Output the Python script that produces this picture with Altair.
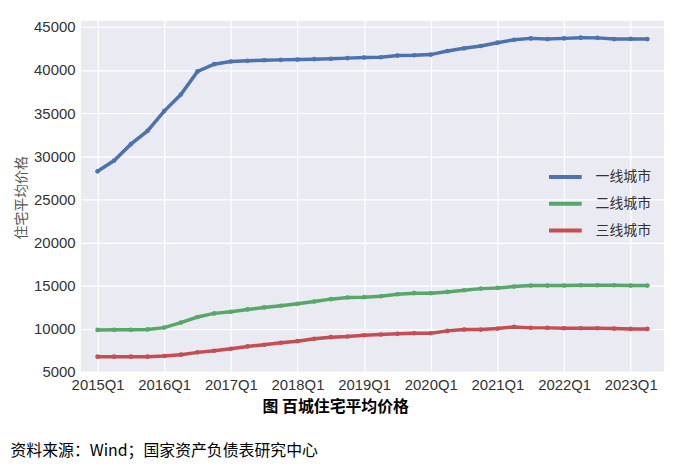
import altair as alt
import pandas as pd

quarters = [f"{y}Q{q}" for y in range(2015, 2024) for q in (1, 2, 3, 4)][:34]
tick_labels = ["2015Q1", "2016Q1", "2017Q1", "2018Q1", "2019Q1", "2020Q1", "2021Q1", "2022Q1", "2023Q1"]
series_names = ["一线城市", "二线城市", "三线城市"]
colors = ["#4C72B0", "#55A868", "#C44E52"]

tier1 = [28250, 29500, 31400, 32930, 35230, 37150, 39830, 40670, 40980, 41060,
         41130, 41170, 41200, 41250, 41300, 41370, 41440, 41470, 41670, 41700,
         41780, 42200, 42510, 42780, 43160, 43500, 43660, 43580, 43660, 43740,
         43720, 43580, 43600, 43580]
tier2 = [9860, 9870, 9880, 9920, 10130, 10710, 11360, 11780, 11970, 12240,
         12470, 12660, 12890, 13160, 13430, 13620, 13660, 13770, 14000, 14120,
         14120, 14270, 14460, 14650, 14730, 14890, 15000, 15000, 15000, 15040,
         15040, 15040, 15000, 15000]
tier3 = [6760, 6760, 6760, 6760, 6840, 6990, 7260, 7450, 7680, 7950,
         8140, 8370, 8560, 8830, 9020, 9100, 9250, 9330, 9410, 9480,
         9480, 9750, 9900, 9900, 10020, 10210, 10100, 10100, 10060, 10060,
         10060, 10020, 9980, 9980]

rows = []
for name, vals in zip(series_names, [tier1, tier2, tier3]):
    for q, v in zip(quarters, vals):
        rows.append({"quarter": q, "price": v, "series": name})
df = pd.DataFrame(rows)

x = alt.X("quarter:O", sort=quarters,
          scale=alt.Scale(type="point", padding=1.65),
          axis=alt.Axis(values=tick_labels, labelAngle=0, title=None,
                        labelFontSize=15, labelColor="#333333", labelFont="Liberation Sans",
                        labelPadding=6, grid=True, gridColor="white", gridWidth=1.2,
                        domain=False, ticks=False))
y = alt.Y("price:Q", scale=alt.Scale(domain=[5000, 45700], nice=False, zero=False),
          axis=alt.Axis(values=list(range(5000, 45001, 5000)), format="d", title="住宅平均价格",
                        titleFont="Noto Sans CJK SC", titleFontSize=14, titleFontWeight="normal",
                        titleColor="#555555", titleX=-60, titleY=178, titleAngle=-90,
                        titleAlign="center", titleBaseline="middle",
                        labelFontSize=15, labelColor="#333333", labelFont="Liberation Sans",
                        labelPadding=6, grid=True, gridColor="white", gridWidth=1.2,
                        domain=False, ticks=False))
color = alt.Color("series:N", scale=alt.Scale(domain=series_names, range=colors),
                  legend=alt.Legend(title=None, orient="none", legendX=470, legendY=139,
                                    symbolType="stroke", symbolSize=1089, symbolStrokeWidth=4,
                                    labelFont="Noto Sans CJK SC", labelFontSize=14,
                                    labelColor="#333333", labelOffset=12, rowPadding=-11,
                                    padding=0))

lines = alt.Chart(df).mark_line(strokeWidth=3.5,
                                point=alt.OverlayMarkDef(size=22, filled=True, opacity=1)).encode(
    x=x, y=y, color=color)

cap = pd.DataFrame({"t": ["图 百城住宅平均价格"]})
caption = alt.Chart(cap).mark_text(font="Noto Sans CJK SC", fontSize=16, fontWeight="bold",
                                   color="#000000", align="center", baseline="middle").encode(
    text="t:N", x=alt.value(257), y=alt.value(389))
src = pd.DataFrame({"t": ["资料来源：Wind；国家资产负债表研究中心"]})
source = alt.Chart(src).mark_text(font="Noto Sans CJK SC", fontSize=16,
                                  color="#000000", align="left", baseline="middle").encode(
    text="t:N", x=alt.value(-71), y=alt.value(434))

chart = alt.layer(lines, caption, source).properties(
    width=588, height=354,
    autosize=alt.AutoSizeParams(type="none"),
    padding={"left": 73.5, "top": 11, "right": 5, "bottom": 90},
    background="white",
).configure_view(fill="#EAEAF2", stroke=None)

chart.save("out.html", embed_options={"renderer": "svg", "actions": False})
